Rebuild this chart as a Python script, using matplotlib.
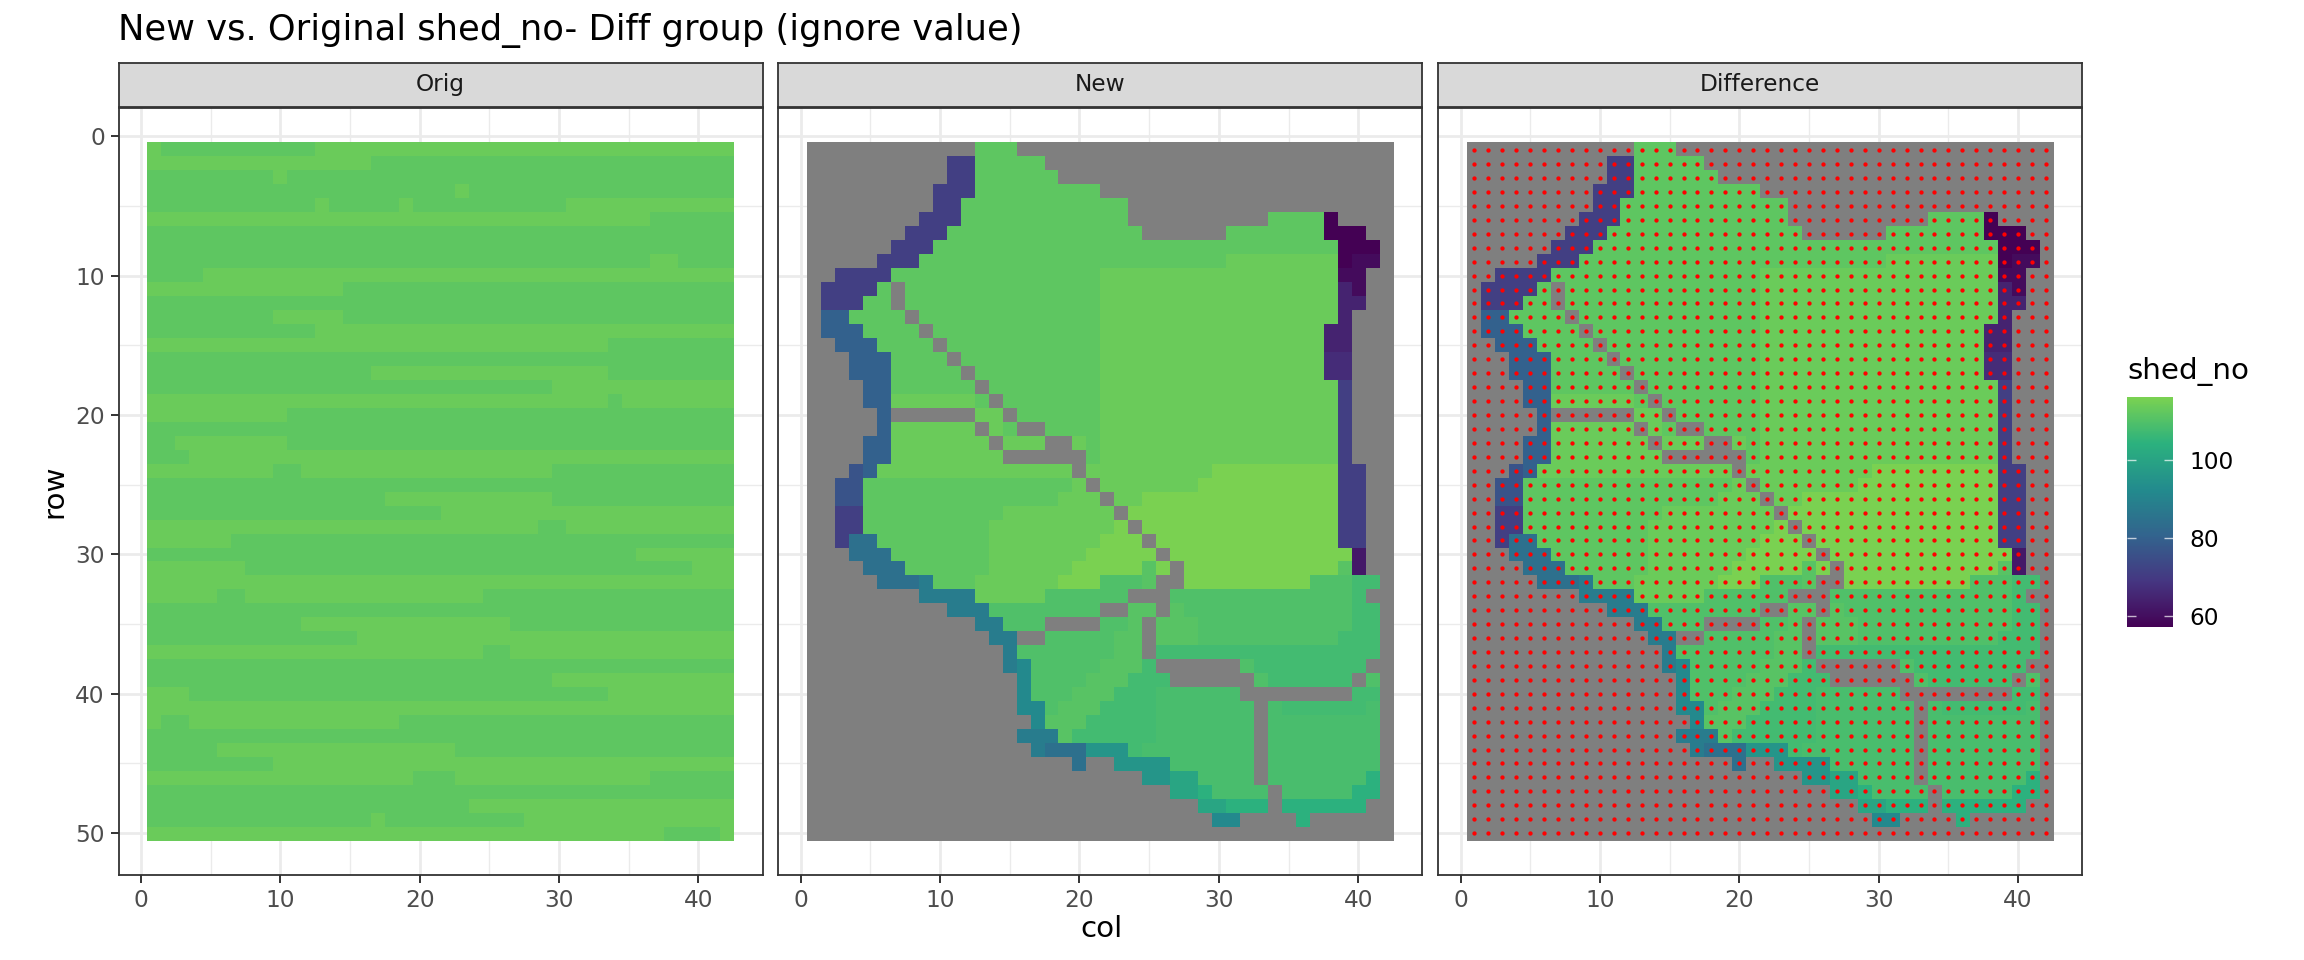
#!/usr/bin/env python
# -*- coding: utf-8 -*-
"""New vs. Original shed_no, three raster panels with a shared colour scale."""

import numpy as np
import matplotlib
matplotlib.use("Agg")
import matplotlib.pyplot as plt
from matplotlib.colors import LinearSegmentedColormap, Normalize
from matplotlib.cm import ScalarMappable

# ============================================================================
# DATA
# ============================================================================
PANELS = ["Orig", "New", "Difference"]
N_COLS = 42
N_ROWS = 50

# shed_no value behind each letter, g = missing
SHED_VALUES = {
    "a": 57.0, "b": 59.2, "c": 62.2, "d": 64.4, "D": 66.6, "e": 71.0, "F": 76.2,
    "f": 79.9, "h": 84.3, "i": 88.0, "j": 91.7, "k": 95.4, "l": 100.5, "m": 104.2,
    "n": 107.5, "o": 108.6, "p": 109.7, "q": 110.8, "r": 111.8, "s": 113.6, "t": 116.0,
}

# one string per row: "12g 15r" means up to col 12 is g, then up to col 15 is r
ORIG_ROWS = [
    "1s 12r 42s", "16s 42r", "9r 10s 42r", "22r 23s 42r", "12r 13s 18r 19s 30r 42s",
    "36s 42r", "42r", "42r", "36r 38s 42r", "4r 42s",
    "14s 42r", "42r", "9r 14s 42r", "12r 42s", "33s 42r",
    "42r", "16r 33s 42r", "29r 42s", "33s 34r 42s", "10s 42r",
    "42r", "2r 10s 42r", "3r 42s", "9s 11r 29s 42r", "42r",
    "17r 29s 42r", "21r 42s", "28s 30r 42s", "6s 42r", "35r 42s",
    "7s 39r 42s", "42s", "5s 7r 24s 42r", "42r", "11r 26s 42r",
    "15r 42s", "24s 26r 42s", "42r", "29r 42s", "3s 33r 42s",
    "42s", "1s 3r 18s 42r", "42r", "5r 22s 42r", "9r 42s",
    "19s 22r 36s 42r", "42r", "23r 42s", "16r 17s 27r 42s", "37s 41r 42s",
]

NEW_ROWS = [
    "12g 15r 42g",
    "10g 12e 17r 42g",
    "10g 12e 18r 42g",
    "9g 12e 21r 42g",
    "9g 11e 23r 42g",
    "8g 11e 23r 33g 37r 38a 42g",
    "7g 10e 24r 30g 37r 40a 42g",
    "6g 9e 38r 41a 42g",
    "5g 8e 30r 38s 39a 41b 42g",
    "2g 6e 21r 38s 40b 42g",
    "1g 5e 6r 7g 21r 38s 39d 40b 42g",
    "1g 4e 6r 7g 21r 38s 40d 42g",
    "1g 3f 7r 8g 21r 38s 39d 42g",
    "1g 4f 8r 9g 21r 37s 39d 42g",
    "2g 5f 9r 10g 21r 37s 39d 42g",
    "3g 6f 10r 11g 21r 37s 39D 42g",
    "3g 6f 11r 12g 21r 37s 39D 42g",
    "4g 6f 12r 13g 21r 38s 39e 42g",
    "4g 6f 12s 13r 14g 21r 38s 39e 42g",
    "5g 6f 12g 14s 15g 21r 38s 39e 42g",
    "5g 6f 12s 13g 14s 15r 17g 21r 38s 39e 42g",
    "4g 6f 13s 14g 17s 19g 20s 21r 38s 39e 42g",
    "4g 6f 14s 20g 21r 38s 39e 42g",
    "3g 4F 5f 19s 20g 29s 38t 40e 42g",
    "2g 4F 19r 20s 21g 28s 38t 40e 42g",
    "2g 4F 18r 21s 22g 24s 38t 40e 42g",
    "2g 4e 14r 22s 23g 38t 40e 42g",
    "2g 4e 13r 22s 23t 24g 38t 40e 42g",
    "2g 3e 5h 13r 21s 24t 25g 38t 40e 42g",
    "3g 6h 13r 20s 25t 26g 39t 40c 42g",
    "4g 7h 13r 19s 24t 25q 26t 27g 38t 39q 40c 42g",
    "5g 8h 9i 12r 18s 21t 24p 25q 27g 36t 39p 41n 42g",
    "8g 12i 17s 23p 26g 39p 40n 42g",
    "10g 13i 21p 23g 25q 26g 27q 39p 41n 42g",
    "12g 14i 17p 21g 23p 24q 25g 28q 39p 41n 42g",
    "13g 15i 17g 22p 24q 25g 28q 38p 41n 42g",
    "14g 15i 22p 24q 25g 41n 42g",
    "14g 15i 16j 21p 24q 25n 31g 32p 40n 42g",
    "15g 16j 20p 23q 26n 32g 33p 39n 40g 41p 42g",
    "15g 16j 19p 22q 25n 31o 39g 41n 42g",
    "15g 17j 18p 21q 25n 32o 33g 34o 40n 41o 42g",
    "16g 17j 20q 25n 32o 33g 41o 42g",
    "15g 18i 19q 25n 32o 33g 41o 42g",
    "16g 17i 20h 23k 24n 32o 33g 41o 42g",
    "19g 20h 22g 26k 32o 33g 41o 42g",
    "24g 26k 28l 32o 33g 40o 41m 42g",
    "26g 28l 29m 33o 34g 39o 41m 42g",
    "28g 30l 33m 34g 40m 42g",
    "29g 31j 35g 36m 42g",
    "42g",
]

X_MAJOR = [0, 10, 20, 30, 40]
X_MINOR = [5, 15, 25, 35]
Y_MAJOR = [0, 10, 20, 30, 40, 50]
Y_MINOR = [5, 15, 25, 35, 45]
LEGEND_TICKS = [60, 80, 100]
SCALE_MIN = 57
SCALE_MAX = 116


def expand_rows(rows):
    # turn the "end col + letter" strings into a masked grid
    grid = np.full((N_ROWS, N_COLS), np.nan)
    for i, row in enumerate(rows):
        start = 0
        for run in row.split():
            end, code = int(run[:-1]), run[-1]
            if code != "g":
                grid[i, start:end] = SHED_VALUES[code]
            start = end
    return np.ma.masked_invalid(grid)


grid_orig = expand_rows(ORIG_ROWS)
grid_new = expand_rows(NEW_ROWS)
grids = [grid_orig, grid_new, grid_new]

# ============================================================================
# FIGURE
# ============================================================================
W, H = 2304, 960
fig = plt.figure(figsize=(W / 200, H / 200), dpi=200, facecolor="white")


def px_axes(left, top, right, bottom):
    return fig.add_axes([left / W, 1 - bottom / H, (right - left) / W, (bottom - top) / H])


# viridis cut at 0.8, six stops like the R scale
cmap = LinearSegmentedColormap.from_list("shed", plt.cm.viridis(np.linspace(0, 0.8, 6)), N=256)
cmap.set_bad("#7F7F7F")
norm = Normalize(SCALE_MIN, SCALE_MAX)

BORDER = "#333333"
PANEL_LEFTS = [118.6, 778.4, 1438.2]
PANEL_W = 644
col_edges = np.linspace(0.45, N_COLS + 0.55, N_COLS + 1)
row_edges = np.linspace(0.45, N_ROWS + 0.55, N_ROWS + 1)

for i, (name, grid) in enumerate(zip(PANELS, grids)):
    left = PANEL_LEFTS[i]

    # strip on top of the panel
    strip = px_axes(left, 62.7, left + PANEL_W, 106.7)
    strip.set_facecolor("#D9D9D9")
    strip.set_xticks([])
    strip.set_yticks([])
    for sp in strip.spines.values():
        sp.set_color(BORDER)
        sp.set_linewidth(0.65)
    strip.text(0.5, 0.5, name, ha="center", va="center", fontsize=8.4,
               color="#1A1A1A", transform=strip.transAxes)

    ax = px_axes(left, 108.3, left + PANEL_W, 875)
    ax.pcolormesh(col_edges, row_edges, grid, cmap=cmap, norm=norm, linewidth=0,
                  antialiased=False, rasterized=True)

    if name == "Difference":
        # every cell differs, one red point per cell
        cc, rr = np.meshgrid(np.arange(1, N_COLS + 1), np.arange(1, N_ROWS + 1))
        ax.scatter(cc.ravel(), rr.ravel(), s=2.4, color="red", linewidths=0, zorder=3)

    ax.set_xlim(-1.6, 44.6)
    ax.set_ylim(53, -2)
    ax.set_xticks(X_MAJOR)
    ax.set_xticks(X_MINOR, minor=True)
    ax.set_yticks(Y_MAJOR)
    ax.set_yticks(Y_MINOR, minor=True)
    ax.set_axisbelow(True)
    ax.grid(which="major", color="#EBEBEB", linewidth=1.0)
    ax.grid(which="minor", color="#EBEBEB", linewidth=0.5)
    ax.tick_params(which="minor", length=0)
    ax.tick_params(which="major", length=2.75, width=0.7, color=BORDER,
                   labelsize=8.4, labelcolor="#4D4D4D", pad=2.2)
    if i > 0:
        ax.tick_params(axis="y", which="major", left=False, labelleft=False)
    for sp in ax.spines.values():
        sp.set_color(BORDER)
        sp.set_linewidth(0.65)

# ============================================================================
# TEXTS
# ============================================================================
fig.text(118 / W, 1 - 30.5 / H, "New vs. Original shed_no- Diff group (ignore value)",
         fontsize=12.7, ha="left", va="center", color="black")
fig.text(1101 / W, 1 - 929 / H, "col", fontsize=10.6, ha="center", va="center")
fig.text(54 / W, 1 - 491 / H, "row", fontsize=10.6, rotation=90, ha="center", va="center")

# ============================================================================
# LEGEND
# ============================================================================
cax = px_axes(2127, 397.3, 2173, 627.3)
cbar = fig.colorbar(ScalarMappable(norm=norm, cmap=cmap), cax=cax, ticks=LEGEND_TICKS)
cbar.outline.set_visible(False)
cax.tick_params(length=0, labelsize=8.4, pad=5.8, labelcolor="black")
cax.hlines(LEGEND_TICKS, 0, 0.2, color="white", linewidth=0.5, alpha=0.7)
cax.hlines(LEGEND_TICKS, 0.8, 1, color="white", linewidth=0.5, alpha=0.7)
fig.text(2127 / W, 1 - 371 / H, "shed_no", fontsize=10.6, ha="left", va="center")

plt.savefig("out.png", dpi=200)
